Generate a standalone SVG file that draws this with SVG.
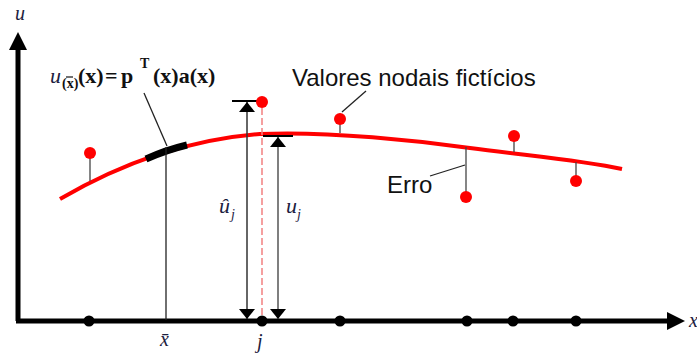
<svg xmlns="http://www.w3.org/2000/svg" width="697" height="356" viewBox="0 0 697 356">
<style>
.ax{stroke:#000;stroke-width:5;fill:none}
.thin{stroke:#222;stroke-width:1.3;fill:none}
.stem{stroke:#444;stroke-width:1.3;fill:none}
.dot{fill:#f00}
.node{fill:#000}
.lbl{font-family:"Liberation Sans",Arial,sans-serif;font-size:24px;fill:#111}
.math{font-family:"Liberation Serif","Times New Roman",serif;font-style:italic;fill:#1c2140}
.fb{font-family:"Liberation Serif","Times New Roman",serif;font-weight:bold;fill:#111}
</style>
<defs>
<marker id="ah" viewBox="0 0 10 16" refX="10" refY="8" markerWidth="10" markerHeight="16" markerUnits="userSpaceOnUse" orient="auto-start-reverse">
<path d="M0,0 L10,8 L0,16 Z" fill="#000"/>
</marker>
</defs>
<g id="axes">
<path class="ax" d="M18,321 V48 M16,321 H668"/>
<path d="M18,32 L27,50 L9,50 Z" fill="#000"/>
<path d="M685,321 L667,312 L667,330 Z" fill="#000"/>
<text class="math" x="15" y="20" font-size="20">u</text>
<text class="math" x="689" y="327" font-size="20">x</text>
</g>
<g id="curve">
<path d="M60,199 C110,170 180,140 260,134 C330,131 420,141 470,148 C530,156 580,160 622,169" stroke="#f00" stroke-width="4" fill="none"/>
<path d="M146,159 Q166,150 187,145" stroke="#000" stroke-width="7" fill="none"/>
</g>
<g id="connectors">
<line class="thin" x1="166" y1="147" x2="166" y2="320"/>
<line class="thin" x1="144" y1="93" x2="167" y2="146"/>
<line class="thin" x1="342" y1="112" x2="366" y2="91"/>
<line class="thin" x1="465" y1="165" x2="430" y2="176"/>
<line class="stem" x1="90" y1="156" x2="90" y2="181"/>
<line class="stem" x1="340" y1="122" x2="340" y2="133"/>
<line class="stem" x1="514" y1="139" x2="514" y2="152"/>
<line class="stem" x1="576" y1="162" x2="576" y2="178"/>
<line class="stem" x1="466" y1="147" x2="466" y2="194"/>
<line x1="262" y1="108" x2="262" y2="318" stroke="#f28080" stroke-width="1.5" stroke-dasharray="7 3"/>
<line x1="232" y1="101" x2="259" y2="101" stroke="#000" stroke-width="2"/>
<line x1="263" y1="136" x2="293" y2="136" stroke="#000" stroke-width="2"/>
<line x1="247" y1="102" x2="247" y2="319" stroke="#333" stroke-width="1.5" marker-start="url(#ah)" marker-end="url(#ah)"/>
<line x1="278" y1="137" x2="278" y2="319" stroke="#555" stroke-width="1.5" marker-start="url(#ah)" marker-end="url(#ah)"/>
</g>
<g id="fictitious-values">
<circle class="dot" cx="90" cy="153" r="6"/>
<circle class="dot" cx="262" cy="102" r="6"/>
<circle class="dot" cx="340" cy="119" r="6"/>
<circle class="dot" cx="514" cy="136" r="6"/>
<circle class="dot" cx="466" cy="197" r="6"/>
<circle class="dot" cx="576" cy="181" r="6"/>
</g>
<g id="nodes">
<circle class="node" cx="89" cy="321" r="5.5"/>
<circle class="node" cx="262" cy="321" r="5.5"/>
<circle class="node" cx="340" cy="321" r="5.5"/>
<circle class="node" cx="467" cy="321" r="5.5"/>
<circle class="node" cx="513" cy="321" r="5.5"/>
<circle class="node" cx="576" cy="321" r="5.5"/>
</g>
<g id="formula">
<text class="math" x="50" y="83" font-size="22">u</text>
<text class="fb" x="62" y="88" font-size="14">(x)</text>
<line x1="66" y1="77" x2="73" y2="77" stroke="#111" stroke-width="1.2"/>
<text class="fb" x="78" y="83" font-size="22">(x)</text>
<text class="fb" x="105" y="83" font-size="22">=</text>
<text class="fb" x="121" y="83" font-size="22">p</text>
<text class="fb" x="140" y="68" font-size="14">T</text>
<text class="fb" x="153" y="83" font-size="22">(x)a(x)</text>
</g>
<g id="labels">
<text class="lbl" x="292" y="86">Valores nodais fictícios</text>
<text class="lbl" x="387" y="193">Erro</text>
<text class="math" x="219" y="213" font-size="22">û</text>
<text class="math" x="231" y="219" font-size="14">j</text>
<text class="math" x="286" y="213" font-size="22">u</text>
<text class="math" x="297" y="219" font-size="14">j</text>
<text class="math" x="160" y="346" font-size="20">x̄</text>
<text class="math" x="257" y="348" font-size="20">j</text>
</g>
</svg>
